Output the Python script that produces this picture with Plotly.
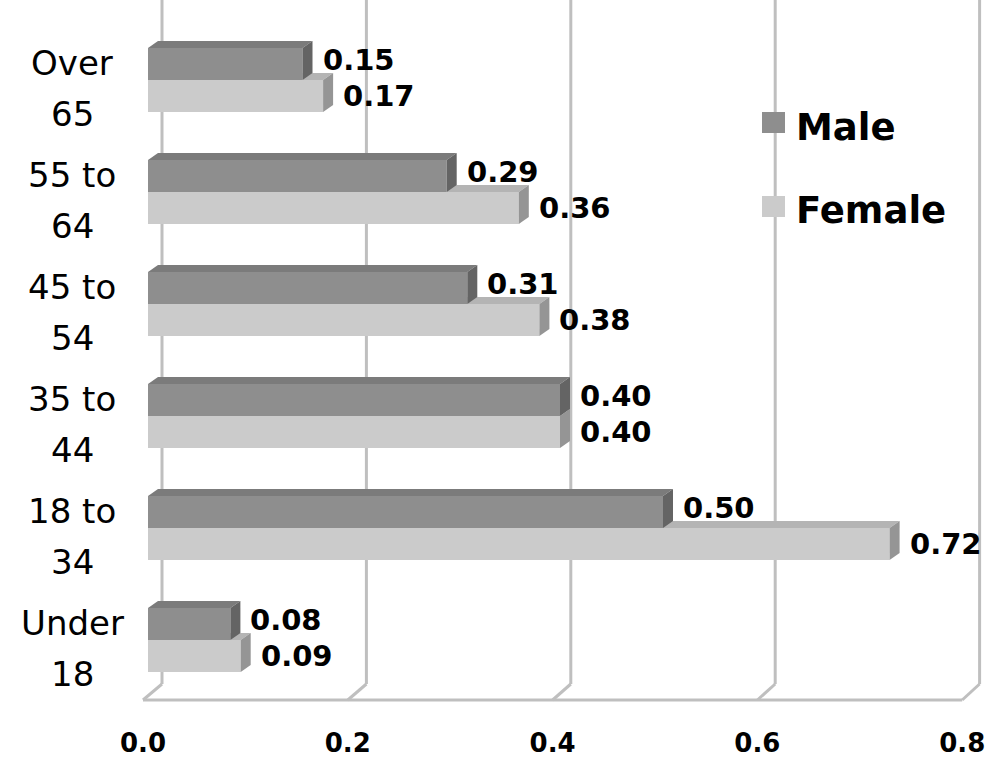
import plotly.graph_objects as go

# ---- data -------------------------------------------------------------
categories = ["Under 18", "18 to 34", "35 to 44", "45 to 54", "55 to 64", "Over 65"]
male = [0.08, 0.50, 0.40, 0.31, 0.29, 0.15]
female = [0.09, 0.72, 0.40, 0.38, 0.36, 0.17]
tick_values = [0.0, 0.2, 0.4, 0.6, 0.8]
tick_labels = ["0.0", "0.2", "0.4", "0.6", "0.8"]
series_names = ["Male", "Female"]

# ---- page geometry (pixels) ------------------------------------------
W, H = 986, 762
PLOT_BOTTOM = 705          # bottom of the plotting area
X0_PX = 148                # bar fronts start here
PX_PER_UNIT = 1030         # horizontal pixels per unit of value
ROW_PX = 112               # vertical pixels per category
ROW0_PX = 640              # centre of the lowest category
BAR_PX = 32                # thickness of one bar
DEPTH_DX, DEPTH_DY = 10, 7 # 3-D depth of the bars
FLOOR_FRONT_PX = 700
FLOOR_DX, FLOOR_DY = 19, 16

ux = 1.0 / PX_PER_UNIT     # value units per pixel
uy = 1.0 / ROW_PX          # category units per pixel

def grid_back(v):
    return 14 * ux + v * 1022 / PX_PER_UNIT

def floor_front(v):
    return -5 * ux + v * 1024 / PX_PER_UNIT

x_range = [-X0_PX * ux, (W - X0_PX) * ux]
y_range = [(ROW0_PX - PLOT_BOTTOM) * uy, ROW0_PX * uy]
y_floor_front = (ROW0_PX - FLOOR_FRONT_PX) * uy
y_floor_back = y_floor_front + FLOOR_DY * uy

bar_h = BAR_PX * uy
dx, dy = DEPTH_DX * ux, DEPTH_DY * uy

colors = {
    "Male": {"front": "#8e8e8e", "top": "#7b7b7b", "side": "#646464"},
    "Female": {"front": "#cbcbcb", "top": "#b4b4b4", "side": "#959595"},
}

centers = list(range(len(categories)))

fig = go.Figure()

# front faces
fig.add_trace(go.Bar(
    y=centers, x=female, orientation="h", width=bar_h, offset=-bar_h,
    marker=dict(color=colors["Female"]["front"], line=dict(width=0)),
    name="Female", showlegend=False, hoverinfo="skip"))
fig.add_trace(go.Bar(
    y=centers, x=male, orientation="h", width=bar_h, offset=0,
    marker=dict(color=colors["Male"]["front"], line=dict(width=0)),
    name="Male", showlegend=False, hoverinfo="skip"))


def face(xs, ys, color):
    fig.add_trace(go.Scatter(
        x=xs + [xs[0]], y=ys + [ys[0]], mode="lines", fill="toself",
        fillcolor=color, line=dict(width=0, color=color),
        showlegend=False, hoverinfo="skip"))


# top and side faces; female first so male sides sit on top
for c, vm, vf in zip(centers, male, female):
    # female top face: only the part not hidden by the male front face
    if vf > vm:
        face([vm, vf, vf + dx, vm], [c, c, c + dy, c + dy], colors["Female"]["top"])
    face([vf, vf + dx, vf + dx, vf], [c - bar_h, c - bar_h + dy, c + dy, c],
         colors["Female"]["side"])
for c, vm in zip(centers, male):
    top = c + bar_h
    face([0, vm, vm + dx, dx], [top, top, top + dy, top + dy], colors["Male"]["top"])
    face([vm, vm + dx, vm + dx, vm], [c, c + dy, top + dy, top], colors["Male"]["side"])

# ---- walls / floor ----------------------------------------------------
shapes = []
grid_color = "#bfbfbf"
for v in tick_values:
    shapes.append(dict(type="line", xref="x", yref="y", layer="below",
                       x0=grid_back(v), x1=grid_back(v), y0=y_floor_back, y1=y_range[1],
                       line=dict(color=grid_color, width=3)))
    shapes.append(dict(type="line", xref="x", yref="y", layer="below",
                       x0=floor_front(v), x1=grid_back(v), y0=y_floor_front, y1=y_floor_back,
                       line=dict(color=grid_color, width=3)))
shapes.append(dict(type="line", xref="x", yref="y", layer="below",
                   x0=floor_front(tick_values[0]), x1=floor_front(tick_values[-1]),
                   y0=y_floor_front, y1=y_floor_front,
                   line=dict(color=grid_color, width=3)))

annotations = []
label_font = dict(family="DejaVu Sans", size=29, color="black", weight="bold")
gap = 8 * ux
for c, vm, vf in zip(centers, male, female):
    annotations.append(dict(x=vm + dx + gap, y=c + 20 * uy, xref="x", yref="y",
                            text=f"{vm:.2f}", showarrow=False, xanchor="left",
                            yanchor="middle", font=label_font))
    annotations.append(dict(x=vf + dx + gap, y=c - 16 * uy, xref="x", yref="y",
                            text=f"{vf:.2f}", showarrow=False, xanchor="left",
                            yanchor="middle", font=label_font))

# category labels, two lines each
cat_font = dict(family="DejaVu Sans", size=34, color="black")
for c, name in zip(centers, categories):
    first, second = name.rsplit(" ", 1)
    annotations.append(dict(x=72 / W, y=c + 17 * uy, xref="paper", yref="y",
                            text=first, showarrow=False, xanchor="center",
                            yanchor="middle", font=cat_font))
    annotations.append(dict(x=72 / W, y=c - 34 * uy, xref="paper", yref="y",
                            text=second, showarrow=False, xanchor="center",
                            yanchor="middle", font=cat_font))

# legend
plot_h = PLOT_BOTTOM
legend_font = dict(family="DejaVu Sans", size=37, color="black", weight="bold")
for name, (sq_top, text_mid) in zip(series_names, [(112, 127), (196, 210)]):
    shapes.append(dict(type="rect", xref="paper", yref="paper",
                       x0=762 / W, x1=785 / W,
                       y0=(plot_h - sq_top - 21) / plot_h, y1=(plot_h - sq_top) / plot_h,
                       fillcolor=colors[name]["front"], line=dict(width=0)))
    annotations.append(dict(x=794 / W, y=(plot_h - text_mid) / plot_h,
                            xref="paper", yref="paper", text=name, showarrow=False,
                            xanchor="left", yanchor="middle", font=legend_font))

fig.update_layout(
    width=W, height=H,
    margin=dict(l=0, r=0, t=0, b=H - PLOT_BOTTOM, autoexpand=False),
    paper_bgcolor="white", plot_bgcolor="white",
    barmode="overlay",
    showlegend=False,
    shapes=shapes,
    annotations=annotations,
    xaxis=dict(range=x_range, showgrid=False, zeroline=False, showline=False,
               automargin=False,
               tickmode="array", tickvals=[floor_front(v) for v in tick_values],
               ticktext=tick_labels, ticks="", ticklabelstandoff=20,
               tickfont=dict(family="DejaVu Sans", size=26, color="black", weight="bold"),
               fixedrange=True),
    yaxis=dict(range=y_range, showgrid=False, zeroline=False, showline=False,
               automargin=False, showticklabels=False, fixedrange=True),
)

fig.write_html("out.html")
